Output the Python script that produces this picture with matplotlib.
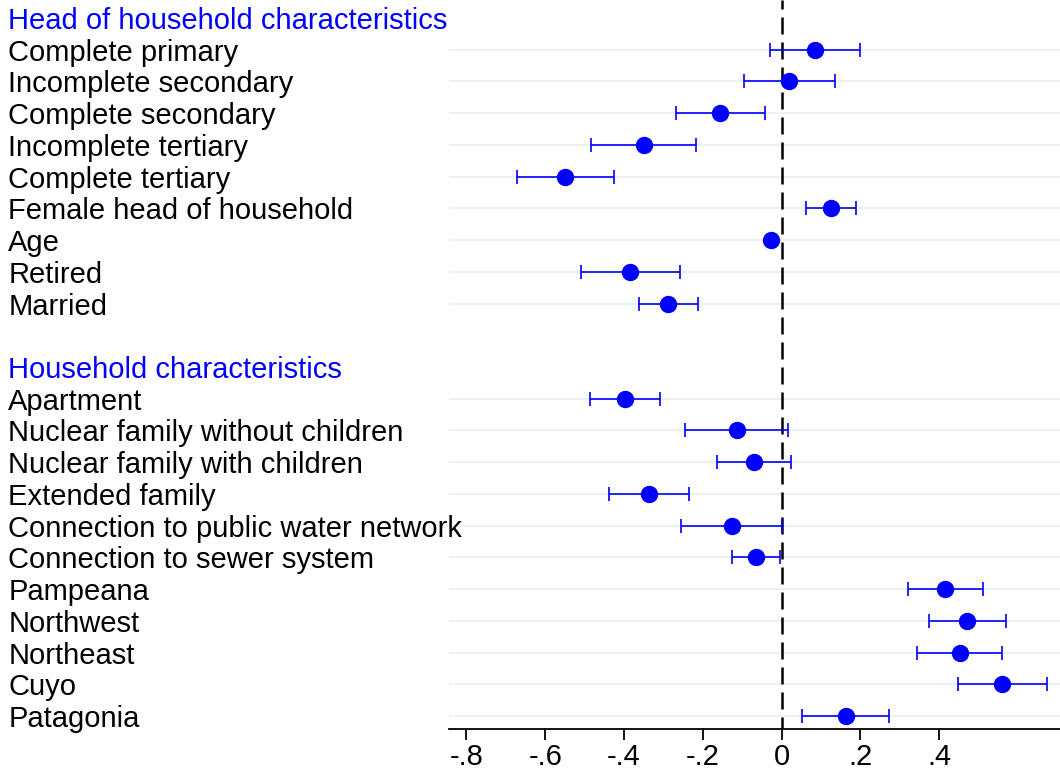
import numpy as np
import matplotlib.pyplot as plt

plt.rcParams['font.family'] = ['Liberation Sans', 'DejaVu Sans']

# coefficient estimates with 95% confidence bounds
head_vars = ["Complete primary", "Incomplete secondary", "Complete secondary",
             "Incomplete tertiary", "Complete tertiary", "Female head of household",
             "Age", "Retired", "Married"]
head_coef = [0.084, 0.019, -0.155, -0.350, -0.549, 0.125, -0.026, -0.384, -0.287]
head_lo = [-0.028, -0.096, -0.268, -0.483, -0.672, 0.061, -0.030, -0.510, -0.362]
head_hi = [0.198, 0.135, -0.042, -0.218, -0.425, 0.189, -0.022, -0.258, -0.211]

hh_vars = ["Apartment", "Nuclear family without children", "Nuclear family with children",
           "Extended family", "Connection to public water network",
           "Connection to sewer system", "Pampeana", "Northwest", "Northeast",
           "Cuyo", "Patagonia"]
hh_coef = [-0.397, -0.114, -0.069, -0.337, -0.126, -0.065, 0.416, 0.472, 0.453, 0.559, 0.163]
hh_lo = [-0.485, -0.244, -0.163, -0.439, -0.255, -0.125, 0.321, 0.375, 0.343, 0.447, 0.051]
hh_hi = [-0.309, 0.016, 0.024, -0.235, 0.001, -0.005, 0.511, 0.569, 0.561, 0.673, 0.274]

groups = [("Head of household characteristics", head_vars, head_coef, head_lo, head_hi),
          ("Household characteristics", hh_vars, hh_coef, hh_lo, hh_hi)]

xticks = [-0.8, -0.6, -0.4, -0.2, 0, 0.2, 0.4]
xticklabels = ["-.8", "-.6", "-.4", "-.2", "0", ".2", ".4"]

BLUE = "#0000ff"
GRID = "#eaf2f3"

fig = plt.figure(figsize=(10.6, 7.76), dpi=100)
ax = fig.add_axes([0.4233, 0.0606, 0.5767, 0.9394])

ticks, labels, colors = [], [], []
pos = 0
for title, names, coef, lo, hi in groups:
    # group heading sits on its own row, no gridline
    ticks.append(pos); labels.append(title); colors.append(BLUE)
    pos += 1
    ys = np.arange(pos, pos + len(names))
    for y in ys:
        ax.axhline(y, color=GRID, lw=1.5, zorder=0)
    coef = np.array(coef)
    err = np.vstack([coef - np.array(lo), np.array(hi) - coef])
    ax.errorbar(coef, ys, xerr=err, fmt='o', color=BLUE, ms=11.5,
                elinewidth=1.2, capsize=5, capthick=1.2, zorder=3)
    ticks.extend(ys); labels.extend(names); colors.extend(["black"] * len(names))
    pos += len(names) + 1

ax.axvline(0, color="black", lw=1.8, ls=(2, (6.8, 3.2)), zorder=2)

ax.set_xlim(-0.845, 0.707)
ax.set_ylim(22.41, -0.567)
ax.set_xticks(xticks)
ax.set_xticklabels(xticklabels, fontsize=21)
ax.tick_params(axis='x', length=8, width=1.3, pad=2)

ax.set_yticks(ticks)
ax.set_yticklabels(labels, fontsize=21, ha='left')
ax.tick_params(axis='y', length=0, pad=317)
for lab, c in zip(ax.get_yticklabels(), colors):
    lab.set_color(c)

for side in ["top", "right", "left"]:
    ax.spines[side].set_visible(False)
ax.spines["bottom"].set_linewidth(1.3)

fig.savefig("out.png", dpi=100)
